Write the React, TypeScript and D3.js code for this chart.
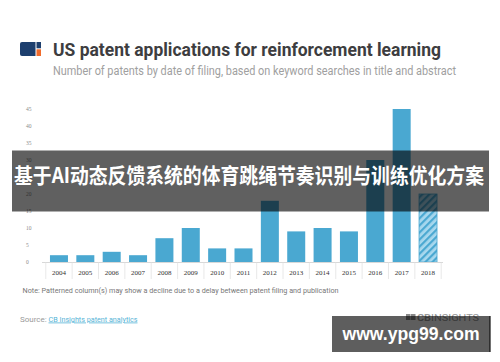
import React from "react";
import * as d3 from "d3";

const years = ["2004","2005","2006","2007","2008","2009","2010","2011","2012","2013","2014","2015","2016","2017","2018"];
const patents = [2, 2, 3, 2, 7, 10, 4, 4, 18, 9, 10, 9, 30, 45, 20];
const patterned = [false,false,false,false,false,false,false,false,false,false,false,false,false,false,true];
const yTicks = [0, 5, 10, 15, 20, 25, 30, 35, 40, 45];

const title = "US patent applications for reinforcement learning";
const subtitle = "Number of patents by date of filing, based on keyword searches in title and abstract";
const note = "Note: Patterned column(s) may show a decline due to a delay between patent filing and publication";
const overlayText = "基于AI动态反馈系统的体育跳绳节奏识别与训练优化方案";
const watermark = "www.ypg99.com";

export default function App() {
  const W = 500, H = 362;
  const x = d3.scaleBand<string>().domain(years).range([45.8, 441.2]).paddingInner(0.317).paddingOuter(0.158);
  const y = d3.scaleLinear().domain([0, 45]).range([262, 109]);
  const barColor = "#4aa8d1";
  const step = x.step();
  const edges = years.map((yr) => (x(yr) as number) - (step - x.bandwidth()) / 2);
  edges.push(edges[edges.length - 1] + step);

  return (
    <svg width={W} height={H} style={{ position: "absolute", left: 0, top: 0, background: "#fff" }}>
      <defs>
        <pattern id="hatch" patternUnits="userSpaceOnUse" width="5" height="5" patternTransform="rotate(45)">
          <rect width="5" height="5" fill="#a8d8ee" />
          <rect width="2.2" height="5" fill={barColor} />
        </pattern>
      </defs>
      <rect width={W} height={H} fill="#fff" />

      {/* logo */}
      <path d="M22,42 H35.5 V56 H22 Q20,56 20,54 V44 Q20,42 22,42 Z" fill="#1d3f6e" />
      <rect x={36.5} y={42} width={4.5} height={6.3} fill="#1d3f6e" />
      <rect x={36.5} y={49.3} width={4.5} height={6.7} fill="#f06b2c" />

      <text x={53} y={56} fontFamily="Roboto, sans-serif" fontWeight={700} fontSize={18.5} fill="#3d3d40"
        textLength={388} lengthAdjust="spacingAndGlyphs">{title}</text>
      <text x={53} y={74.5} fontFamily="Roboto, sans-serif" fontSize={12} fill="#a0a0a0"
        textLength={403} lengthAdjust="spacingAndGlyphs">{subtitle}</text>

      {/* y ticks */}
      {yTicks.map((t) => (
        <text key={t} x={26} y={y(t) + 2} fontFamily="'Liberation Serif', serif" fontSize={5.5} fill="#8a8a8a">{t}</text>
      ))}

      {/* bars */}
      {years.map((yr, i) => (
        <rect key={yr} x={x(yr)} y={y(patents[i])} width={x.bandwidth()} height={y(0) - y(patents[i])}
          fill={patterned[i] ? "url(#hatch)" : barColor}
          stroke={patterned[i] ? barColor : "none"} strokeWidth={patterned[i] ? 0.8 : 0} />
      ))}

      {/* x axis */}
      <line x1={42} x2={443} y1={262.5} y2={262.5} stroke="#d8d8d8" strokeWidth={1} />
      {edges.map((e, i) => (
        <line key={i} x1={e} x2={e} y1={262.5} y2={279} stroke="#e2e2e2" strokeWidth={0.8} />
      ))}
      {years.map((yr) => (
        <text key={yr} x={(x(yr) as number) + x.bandwidth() / 2} y={274.5} textAnchor="middle"
          fontFamily="'Liberation Serif', serif" fontSize={7} fill="#333">{yr}</text>
      ))}

      {/* note and source */}
      <text x={22.5} y={293} fontFamily="Roboto, sans-serif" fontSize={6.8} fill="#777"
        textLength={316} lengthAdjust="spacingAndGlyphs">{note}</text>
      <text x={20} y={321.5} fontFamily="Roboto, sans-serif" fontSize={8} fill="#9a9a9a">Source: </text>
      <text x={48.5} y={321.5} fontFamily="Roboto, sans-serif" fontSize={8} fill="#56b3d6"
        textLength={89} lengthAdjust="spacingAndGlyphs" textDecoration="underline">CB Insights patent analytics</text>

      {/* CB Insights logo */}
      <rect x={406} y={314} width={4.5} height={6} fill="#8a8a8a" />
      <rect x={411} y={314} width={4.5} height={6} fill="#8a8a8a" />
      <text x={417} y={320.5} fontFamily="Roboto, sans-serif" fontSize={9} fill="#9a9a9a" textLength={62} lengthAdjust="spacingAndGlyphs">
        <tspan fontWeight={700}>CB</tspan>INSIGHTS
      </text>

      {/* overlay banner */}
      <rect x={12} y={150.5} width={477} height={61} fill="#000" fillOpacity={0.625} />
      <text x={249} y={182.5} textAnchor="middle" fontFamily="'Noto Sans CJK SC', sans-serif" fontWeight={700}
        fontSize={21} fill="#fff" textLength={470} lengthAdjust="spacingAndGlyphs">{overlayText}</text>

      {/* watermark */}
      <rect x={332} y={316} width={158} height={36} fill="#000" fillOpacity={0.63} />
      <line x1={490} x2={490} y1={316} y2={352} stroke="#111" strokeWidth={1.2} />
      <text x={411} y={340} textAnchor="middle" fontFamily="'Liberation Sans', Arial, sans-serif" fontWeight={700}
        fontSize={19} fill="#fff" textLength={137} lengthAdjust="spacingAndGlyphs">{watermark}</text>
    </svg>
  );
}
